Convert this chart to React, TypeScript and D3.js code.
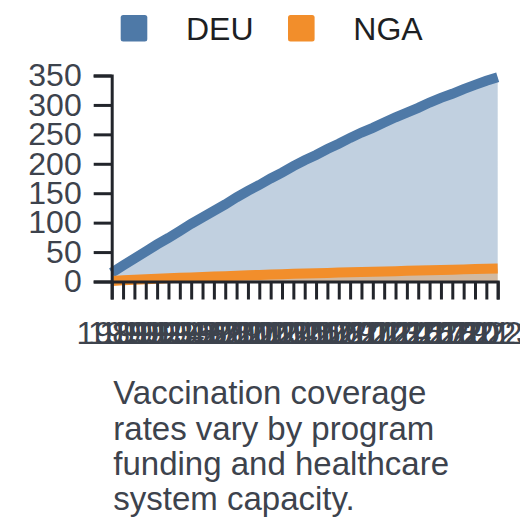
import * as d3 from "d3";
import { useEffect, useRef } from "react";

// years 1989..2023
const years = [
  1989, 1990, 1991, 1992, 1993, 1994, 1995, 1996, 1997, 1998, 1999, 2000,
  2001, 2002, 2003, 2004, 2005, 2006, 2007, 2008, 2009, 2010, 2011, 2012,
  2013, 2014, 2015, 2016, 2017, 2018, 2019, 2020, 2021, 2022, 2023,
];
const deu = [
  15, 27, 39, 51, 63, 74, 86, 98, 109, 120, 131, 143, 154, 164, 175, 185, 196,
  206, 215, 225, 234, 244, 253, 261, 270, 279, 287, 295, 304, 312, 319, 327,
  334, 341, 347,
];
const nga = [
  1, 2, 2.9, 3.8, 4.6, 5.4, 6.2, 7, 7.7, 8.4, 9.1, 9.8, 10.5, 11.2, 11.8, 12.4,
  13, 13.6, 14.1, 14.6, 15.1, 15.6, 16.1, 16.6, 17.1, 17.6, 18.1, 18.6, 19.1,
  19.6, 20.1, 20.6, 21.1, 21.6, 22,
];
const seriesNames = ["DEU", "NGA"];
const colors = ["#4e79a7", "#f28e2b"];
const yTicks = [0, 50, 100, 150, 200, 250, 300, 350];
const caption = [
  "Vaccination coverage",
  "rates vary by program",
  "funding and healthcare",
  "system capacity.",
];

const App = () => {
  const ref: any = useRef();

  useEffect(() => {
    const svg = d3.select(ref.current);
    svg.selectAll("*").remove();

    const margin = { top: 67.5, left: 103.7 };
    const width = 386, height = 206;
    const font = "'Liberation Sans', Arial, sans-serif";

    const x: any = d3.scaleLinear().domain([1989, 2023]).range([0, width]);
    const y: any = d3.scaleLinear().domain([0, 350]).range([height, 0]);

    const g = svg.append("g").attr("transform", `translate(${margin.left}, ${margin.top})`);

    const all = [deu, nga];

    // areas
    all.forEach((vals, i) => {
      const area = d3.area<number>()
        .x((_d, j) => x(years[j]))
        .y0(y(0))
        .y1((d) => y(d));
      g.append("path")
        .attr("d", area(vals))
        .attr("fill", colors[i])
        .attr("fill-opacity", 0.35);
    });

    // lines
    all.forEach((vals, i) => {
      const line = d3.line<number>()
        .x((_d, j) => x(years[j]))
        .y((d) => y(d));
      g.append("path")
        .attr("d", line(vals))
        .attr("fill", "none")
        .attr("stroke", colors[i])
        .attr("stroke-width", 10);
    });

    // axes
    const xAxis = g.append("g")
      .attr("transform", `translate(0, ${height})`)
      .call(d3.axisBottom(x).tickValues(years).tickFormat(d3.format("d")).tickSize(18).tickPadding(22));
    const yAxis = g.append("g")
      .call(d3.axisLeft(y).tickValues(yTicks).tickSize(18).tickPadding(12));

    [xAxis, yAxis].forEach((ax) => {
      ax.selectAll("path, line").attr("stroke", "#22252b").attr("stroke-width", 3);
      ax.selectAll("text")
        .attr("fill", "#3d434d")
        .style("font-family", font)
        .style("font-size", "32px");
    });

    // legend
    const legendX = [112.7, 280];
    seriesNames.forEach((name, i) => {
      svg.append("rect")
        .attr("x", legendX[i]).attr("y", 7)
        .attr("width", 26.6).attr("height", 26.6)
        .attr("rx", 2.5)
        .attr("fill", colors[i]);
      svg.append("text")
        .attr("x", legendX[i] + 65.3).attr("y", 32)
        .attr("fill", "#1d1f23")
        .style("font-family", font)
        .style("font-size", "32px")
        .text(name);
    });

    // caption
    caption.forEach((t, i) => {
      svg.append("text")
        .attr("x", 105.3).attr("y", 396.3 + i * 35.2)
        .attr("fill", "#3d434d")
        .style("font-family", font)
        .style("font-size", "33px")
        .text(t);
    });
  }, []);

  return <svg width={512} height={512} ref={ref} style={{ display: "block" }} />;
};

export default App;
